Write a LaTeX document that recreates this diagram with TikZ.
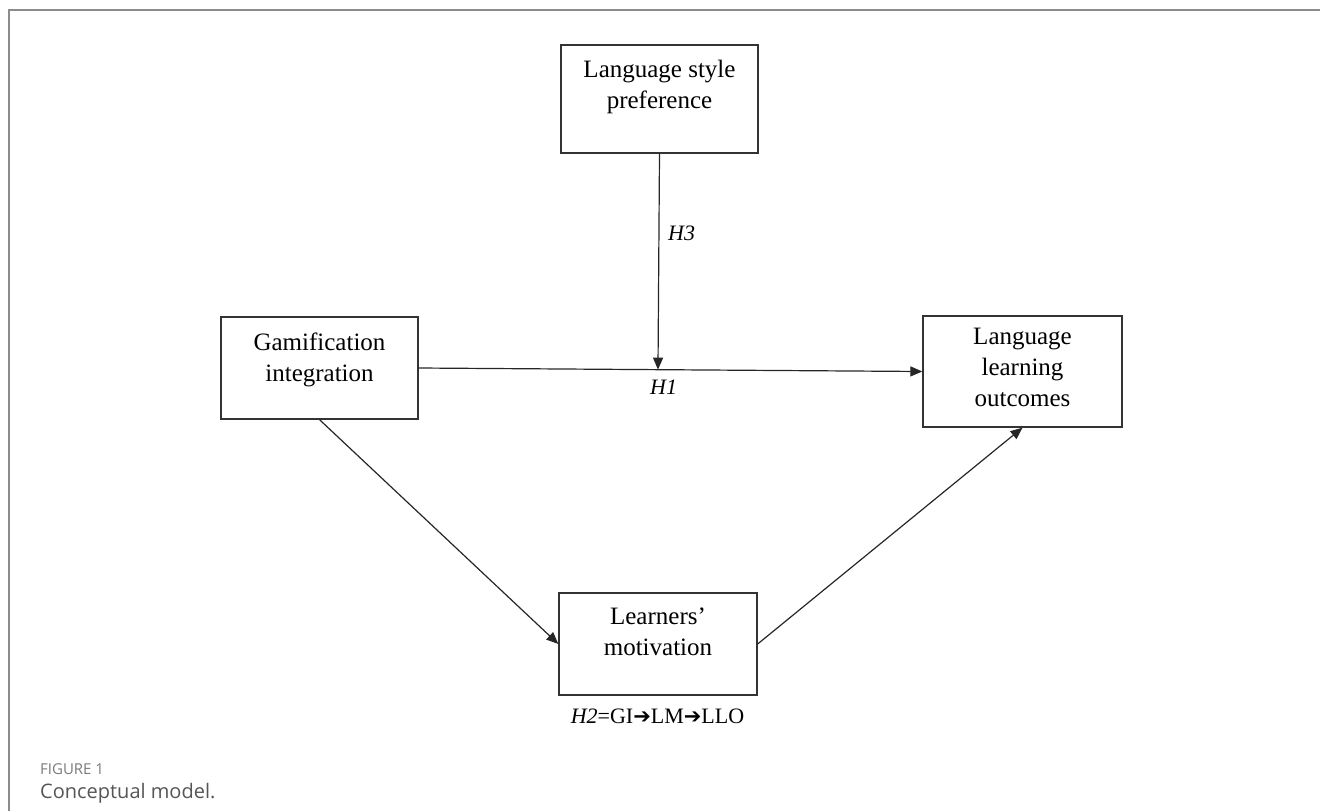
\documentclass[tikz,border=0pt]{standalone}
\usepackage{fontspec}
\setmainfont{Liberation Serif}
\newfontfamily\capfont{Open Sans}
\newfontfamily\symfont{DejaVu Sans}
\usetikzlibrary{arrows.meta,calc}
\definecolor{framegray}{HTML}{8C8C8C}
\definecolor{capgray}{HTML}{7A7A7A}
\definecolor{capdark}{HTML}{555555}
\definecolor{boxline}{HTML}{333333}
\tikzset{
  x=1pt,y=-1pt,
  varbox/.style={draw=boxline,line width=1.3pt,inner sep=0pt},
  boxtext/.style={inner sep=0pt,align=center,anchor=north,font=\fontsize{25}{31}\selectfont},
  hlabel/.style={inner sep=0pt,font=\fontsize{22}{26}\selectfont\itshape},
  conn/.style={line width=1.2pt,draw=black!85,-{Triangle[length=12pt,width=10pt]}},
}
\begin{document}
\begin{tikzpicture}
\useasboundingbox (0,0) rectangle (1320,811);
% frame
\draw[framegray,line width=2pt] (9,811) -- (9,10) -- (1320,10);
% boxes
\node[varbox,minimum width=197pt,minimum height=108pt] (lsp) at (659.5,99) {};
\node[varbox,minimum width=197pt,minimum height=102pt] (gi) at (319.5,368) {};
\node[varbox,minimum width=199pt,minimum height=111pt] (llo) at (1022.5,371.5) {};
\node[varbox,minimum width=198pt,minimum height=102pt] (lm) at (658,644) {};
% box texts
\node[boxtext] (lspt) at ($(lsp.north)+(0,16)$) {Language style\\preference};
\node[boxtext] (git) at ($(gi.north)+(0,16)$) {Gamification\\integration};
\node[boxtext] (llot) at ($(llo.north)+(0,13)$) {Language\\learning\\outcomes};
\node[boxtext] (lmt) at ($(lm.north)+(0,15)$) {Learners’\\motivation};
% connectors
\coordinate (mod) at ($(gi.east)!(lsp.south)!(llo.west)$);
\draw[conn] (gi.east) -- (llo.west);
\draw[conn] (lsp.south) -- (mod);
\draw[conn] (gi.south) -- (lm.west);
\draw[conn] (lm.east) -- (llo.south);
% labels
\node[hlabel,anchor=base west] (h3) at (668,240) {H3};
\node[hlabel,anchor=base west] (h1) at (650,394) {H1};
\node[inner sep=0pt,anchor=base,font=\fontsize{22}{26}\selectfont] (h2) at (657.5,723)
  {\textit{H2}=GI{\symfont\fontsize{21}{24}\selectfont ➔}LM{\symfont\fontsize{21}{24}\selectfont ➔}LLO};
% caption
\node[inner sep=0pt,anchor=base west,text=capgray,font=\capfont\fontsize{15}{18}\selectfont] (fig) at (40,774) {FIGURE 1};
\node[inner sep=0pt,anchor=base west,text=capdark,font=\capfont\fontsize{20}{24}\selectfont] (cap) at (40,798) {Conceptual model.};
\end{tikzpicture}
\end{document}
